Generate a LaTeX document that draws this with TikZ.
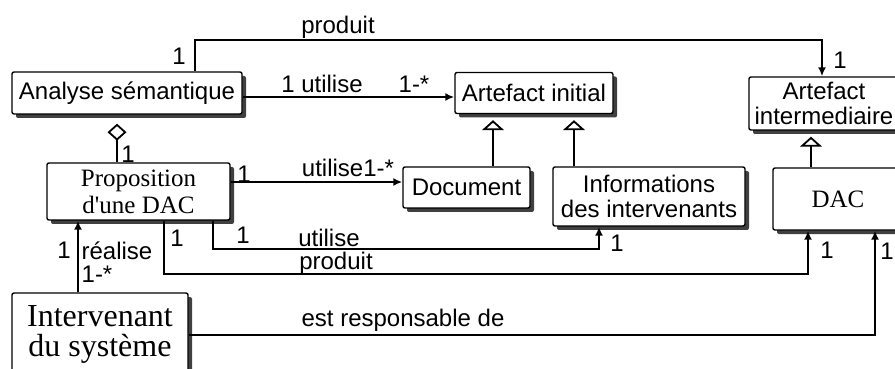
\documentclass[tikz,border=0pt]{standalone}
\usepackage{fontspec}
\setmainfont{Liberation Serif}
\setsansfont{Liberation Sans}
\usetikzlibrary{arrows.meta,shadows}

\tikzset{
  cls/.style={draw, line width=0.7pt, rounded corners=1pt, fill=white, inner sep=0pt, align=center,
    drop shadow={shadow xshift=2pt, shadow yshift=-2pt, fill=black!75, opacity=1}},
  sanscls/.style={cls, font=\sffamily\fontsize{12}{12.5}\selectfont},
  sercls/.style={cls, font=\fontsize{12.5}{13.5}\selectfont},
  lbl/.style={font=\sffamily\fontsize{12}{14}\selectfont, inner sep=0pt},
  assoc/.style={line width=0.9pt, -{Latex[length=4.5pt,width=4pt]}},
  herit/.style={line width=0.9pt, -{Triangle[open,length=5pt,width=11pt]}, shorten >=3pt},
  aggr/.style={line width=0.9pt, {Diamond[open,length=8.5pt,width=9.5pt]}-, shorten <=4.5pt}
}

\begin{document}
\begin{tikzpicture}[x=0.5pt,y=-0.5pt]
    \useasboundingbox (0,0) rectangle (895,369);

    % classes
    \node[sanscls, minimum width=115pt, minimum height=21pt] (ana) at (127,93) {Analyse sémantique};
    \node[sanscls, minimum width=79pt, minimum height=20.5pt] (ai) at (534,93) {Artefact initial};
    \node[sanscls, minimum width=75pt, minimum height=26.5pt] (aint) at (824,103.5) {Artefact\\intermediaire};
    \node[sercls, minimum width=91.5pt, minimum height=28.5pt] (prop) at (138.5,191.5) {Proposition\\d\textquotesingle une DAC};
    \node[sanscls, minimum width=63.5pt, minimum height=20.5pt] (doc) at (466.5,187.5) {Document};
    \node[sanscls, minimum width=96pt, minimum height=29.5pt] (info) at (649,196.5) {Informations\\des intervenants};
    \node[sercls, minimum width=65pt, minimum height=31pt] (dac) at (838,199) {DAC};
    \node[cls, font=\fontsize{16}{15}\selectfont, minimum width=88pt, minimum height=41pt] (inter) at (100,334) {Intervenant\\du système};

    % bends
    \coordinate (p0) at (195,40);
    \coordinate (p1) at (822,40);
    \coordinate (a0) at (0,97);
    \coordinate (g0) at (117,0);
    \coordinate (h1) at (493,0);
    \coordinate (h2) at (574,0);
    \coordinate (h3) at (811,0);
    \coordinate (u0) at (0,182);
    \coordinate (u1) at (213,249);
    \coordinate (u2) at (599,249);
    \coordinate (r1) at (164,274);
    \coordinate (r2) at (808,274);
    \coordinate (e0) at (78,0);
    \coordinate (s1) at (875,335);

    % links
    \draw[assoc] (ana.north -| p0) -- (p0) -- (p1) -- (aint.north -| p1);
    \draw[assoc] (ana.east |- a0) -- (ai.west |- a0);
    \draw[aggr] (ana.south -| g0) -- (prop.north -| g0);
    \draw[herit] (doc.north -| h1) -- (ai.south -| h1);
    \draw[herit] (info.north -| h2) -- (ai.south -| h2);
    \draw[herit] (dac.north -| h3) -- (aint.south -| h3);
    \draw[assoc] (prop.east |- u0) -- (doc.west |- u0);
    \draw[assoc] (prop.south -| u1) -- (u1) -- (u2) -- (info.south -| u2);
    \draw[assoc] (prop.south -| r1) -- (r1) -- (r2) -- (dac.south -| r2);
    \draw[assoc] (inter.north -| e0) -- (prop.south -| e0);
    \draw[assoc] (inter.east |- s1) -- (s1) -- (dac.south -| s1);

    % labels
    \node[lbl] (lprod1) at (338,27) {produit};
    \node[lbl] (lm1) at (179,56) {1};
    \node[lbl] (lm2) at (840,60) {1};
    \node[lbl] (luti1) at (322,84) {1 utilise};
    \node[lbl] (lm3) at (414,84) {1-*};
    \node[lbl] (lm4) at (128,154) {1};
    \node[lbl] (lm5) at (244,174) {1};
    \node[lbl] (luti2) at (348,168) {utilise1-*};
    \node[lbl] (lm6) at (243,235) {1};
    \node[lbl] (lm7) at (177,238) {1};
    \node[lbl] (luti3) at (329,238) {utilise};
    \node[lbl] (lprod2) at (336,263) {produit};
    \node[lbl] (lm8) at (617,243) {1};
    \node[lbl] (lm9) at (827,250) {1};
    \node[lbl] (lm10) at (887,251) {1};
    \node[lbl] (lm11) at (64,250) {1};
    \node[lbl] (lreal) at (117,251) {réalise};
    \node[lbl] (lm12) at (97,274) {1-*};
    \node[lbl] (lresp) at (403,320) {est responsable de};
\end{tikzpicture}
\end{document}
